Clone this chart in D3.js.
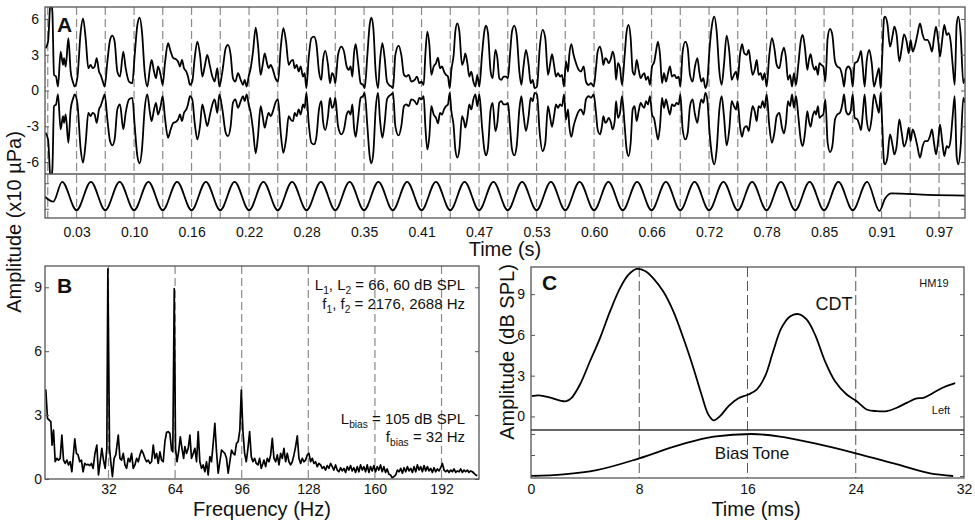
<!DOCTYPE html>
<html><head><meta charset="utf-8">
<script src="https://cdn.jsdelivr.net/npm/d3@7"></script>
<style>body{margin:0;background:#fff}</style>
</head><body>
<svg id="chart" width="975" height="525"></svg>
<script>
// ---------------- DATA ----------------
// Panel A: envelope of the recorded waveform (x10 µPa), upper trace; lower trace is its mirror
const aEnvelope = [
[0.0007,3.54],[0.0033,4.10],[0.0062,7.6],[0.0080,6.6],[0.0098,1.31],[0.0120,1.17],[0.0141,0.33],[0.0170,3.26],[0.0196,2.15],[0.0207,2.71],[0.0225,2.01],[0.0254,4.38],[0.0279,1.59],[0.0308,0.61],[0.0322,0.33],[0.0351,1.03],[0.0388,4.94],[0.0413,6.05],[0.0442,4.38],[0.0471,1.87],[0.0496,2.15],[0.0518,1.87],[0.0540,2.01],[0.0562,2.71],[0.0587,1.59],[0.0605,1.31],[0.0623,0.89],[0.0649,0.33],[0.0678,2.43],[0.0707,4.24],[0.0732,4.60],[0.0757,4.10],[0.0786,1.59],[0.0815,1.17],[0.0851,3.26],[0.0877,1.87],[0.0913,0.75],[0.0949,0.61],[0.0975,2.98],[0.1004,5.50],[0.1029,6.11],[0.1054,4.94],[0.1083,1.59],[0.1112,0.33],[0.1141,1.87],[0.1159,2.57],[0.1185,1.59],[0.1207,1.03],[0.1228,2.01],[0.1257,1.31],[0.1279,0.47],[0.1304,2.29],[0.1337,3.96],[0.1366,3.26],[0.1395,2.71],[0.1424,2.62],[0.1446,2.43],[0.1467,2.01],[0.1489,2.57],[0.1511,1.87],[0.1536,1.59],[0.1554,1.17],[0.1576,0.47],[0.1601,0.75],[0.1627,2.71],[0.1656,4.10],[0.1685,2.98],[0.1710,1.17],[0.1736,2.01],[0.1764,2.98],[0.1790,2.15],[0.1819,1.17],[0.1844,0.75],[0.1873,1.87],[0.1895,0.33],[0.1928,1.59],[0.1964,3.54],[0.1989,3.82],
[0.2018,2.98],[0.2043,1.03],[0.2069,0.75],[0.2098,1.45],[0.2127,0.89],[0.2152,0.47],[0.2170,0.89],[0.2192,0.33],[0.2214,1.17],[0.2236,1.87],[0.2261,3.26],[0.2290,5.27],[0.2315,3.82],[0.2344,1.31],[0.2366,2.15],[0.2388,3.12],[0.2413,2.29],[0.2431,1.87],[0.2453,2.15],[0.2478,1.73],[0.2504,1.03],[0.2533,0.75],[0.2562,3.54],[0.2591,5.22],[0.2620,4.10],[0.2649,2.15],[0.2670,2.43],[0.2696,2.57],[0.2714,1.87],[0.2736,2.15],[0.2757,1.59],[0.2779,2.01],[0.2804,1.17],[0.2822,1.45],[0.2841,0.20],[0.2866,2.71],[0.2895,4.38],[0.2924,4.52],[0.2949,3.96],[0.2978,1.59],[0.3004,0.89],[0.3022,2.57],[0.3047,3.32],[0.3076,2.15],[0.3098,0.61],[0.3120,1.45],[0.3141,1.17],[0.3156,0.61],[0.3185,2.98],[0.3221,3.68],[0.3250,3.26],[0.3279,2.01],[0.3301,1.73],[0.3322,2.01],[0.3341,1.17],[0.3359,3.12],[0.3377,3.88],[0.3402,2.43],[0.3431,0.61],[0.3457,0.47],[0.3475,0.20],[0.3504,2.98],[0.3529,5.50],[0.3547,6.11],[0.3569,5.22],[0.3594,1.59],[0.3620,0.20],[0.3641,2.43],[0.3667,3.96],[0.3692,2.71],[0.3717,0.75],[0.3739,0.47],[0.3764,0.33],[0.3783,0.20],[0.3808,2.98],[0.3844,3.77],[0.3873,2.98],[0.3902,1.31],[0.3928,1.17],[0.3953,1.31],[0.3982,0.75],
[0.4018,0.89],[0.4043,1.17],[0.4069,0.61],[0.4091,0.75],[0.4116,0.47],[0.4134,2.98],[0.4156,4.94],[0.4178,3.82],[0.4199,1.31],[0.4225,2.01],[0.4250,2.29],[0.4272,2.76],[0.4293,1.87],[0.4315,2.01],[0.4337,1.59],[0.4359,1.31],[0.4380,1.17],[0.4399,0.20],[0.4417,1.73],[0.4442,2.98],[0.4460,4.94],[0.4482,5.63],[0.4504,4.94],[0.4533,2.15],[0.4554,2.57],[0.4569,3.12],[0.4591,2.29],[0.4612,1.17],[0.4634,1.59],[0.4656,0.75],[0.4678,0.33],[0.4699,1.31],[0.4721,0.33],[0.4750,2.98],[0.4775,4.94],[0.4793,5.44],[0.4815,4.80],[0.4844,1.59],[0.4866,1.03],[0.4895,3.40],[0.4917,2.71],[0.4938,1.03],[0.4960,0.89],[0.4986,1.17],[0.5011,1.17],[0.5033,1.03],[0.5054,2.98],[0.5076,4.94],[0.5101,5.44],[0.5127,4.66],[0.5156,1.59],[0.5178,0.47],[0.5199,1.87],[0.5228,3.40],[0.5257,2.15],[0.5279,0.61],[0.5301,0.89],[0.5322,0.20],[0.5348,0.33],[0.5377,3.54],[0.5409,5.08],[0.5438,4.38],[0.5467,1.31],[0.5489,2.15],[0.5511,3.04],[0.5533,2.15],[0.5554,1.17],[0.5576,1.45],[0.5598,1.17],[0.5620,1.31],[0.5641,0.33],[0.5663,2.43],[0.5685,1.59],[0.5699,2.98],[0.5721,3.88],[0.5746,2.98],[0.5772,2.29],[0.5801,1.73],[0.5826,1.59],[0.5855,2.01],[0.5880,0.75],[0.5909,0.47],[0.5935,0.61],[0.5964,0.33],[0.5989,1.87],
[0.6007,3.26],[0.6033,3.68],[0.6054,2.98],[0.6069,2.15],[0.6091,2.71],[0.6109,2.57],[0.6127,2.29],[0.6152,2.71],[0.6170,3.26],[0.6192,2.57],[0.6207,0.89],[0.6228,2.29],[0.6250,1.87],[0.6272,0.47],[0.6301,2.98],[0.6322,4.94],[0.6344,5.50],[0.6366,4.38],[0.6388,1.59],[0.6409,1.31],[0.6431,2.57],[0.6453,1.73],[0.6475,1.03],[0.6496,1.31],[0.6514,1.45],[0.6533,0.89],[0.6554,1.17],[0.6576,0.47],[0.6598,2.01],[0.6623,2.43],[0.6641,3.26],[0.6663,4.10],[0.6685,2.98],[0.6707,0.61],[0.6728,1.45],[0.6750,0.75],[0.6772,1.45],[0.6793,2.01],[0.6815,1.17],[0.6841,1.31],[0.6866,1.03],[0.6888,1.17],[0.6906,0.33],[0.6931,3.26],[0.6960,4.10],[0.6986,3.54],[0.7011,1.31],[0.7040,0.75],[0.7062,1.87],[0.7091,2.71],[0.7112,1.59],[0.7134,0.75],[0.7156,1.03],[0.7178,0.20],[0.7199,0.75],[0.7221,3.26],[0.7250,5.50],[0.7275,6.19],[0.7301,4.94],[0.7330,1.59],[0.7355,0.47],[0.7380,2.15],[0.7409,4.60],[0.7438,3.26],[0.7464,0.89],[0.7489,1.31],[0.7511,1.59],[0.7529,0.89],[0.7554,2.98],[0.7576,3.88],[0.7601,3.12],[0.7627,2.98],[0.7649,3.40],[0.7670,2.29],[0.7692,1.31],[0.7714,1.73],[0.7736,2.57],[0.7757,1.31],[0.7779,1.45],[0.7801,0.89],[0.7822,1.45],[0.7844,0.33],[0.7873,2.98],[0.7902,4.38],[0.7928,3.54],[0.7953,2.15],[0.7982,1.87],
[0.8011,3.12],[0.8033,3.60],[0.8054,2.71],[0.8076,0.89],[0.8098,1.31],[0.8120,0.33],[0.8141,1.45],[0.8163,0.47],[0.8188,2.15],[0.8214,4.10],[0.8236,4.66],[0.8261,3.54],[0.8286,1.73],[0.8304,2.57],[0.8322,3.04],[0.8344,2.15],[0.8366,1.73],[0.8380,2.01],[0.8402,1.31],[0.8417,2.29],[0.8438,2.15],[0.8460,2.01],[0.8482,0.75],[0.8507,4.38],[0.8533,5.16],[0.8558,4.66],[0.8587,2.43],[0.8612,2.01],[0.8641,1.87],[0.8670,1.03],[0.8685,0.33],[0.8707,1.73],[0.8732,2.01],[0.8757,1.73],[0.8779,0.33],[0.8801,2.29],[0.8830,2.43],[0.8851,2.85],[0.8870,3.32],[0.8888,2.01],[0.8909,0.33],[0.8931,2.43],[0.8960,3.40],[0.8986,2.29],[0.9011,0.33],[0.9040,1.17],[0.9065,1.87],[0.9083,0.20],[0.9101,2.98],[0.9120,6.05],[0.9130,6.19],[0.9156,5.63],[0.9185,3.68],[0.9214,4.66],[0.9232,5.36],[0.9257,4.66],[0.9286,2.43],[0.9312,3.54],[0.9337,4.71],[0.9366,4.10],[0.9388,3.12],[0.9409,4.24],[0.9431,3.26],[0.9453,3.68],[0.9482,4.66],[0.9511,5.63],[0.9540,4.66],[0.9565,4.24],[0.9591,4.24],[0.9620,3.82],[0.9641,3.26],[0.9663,4.38],[0.9685,5.36],[0.9710,4.10],[0.9728,2.85],[0.9754,4.38],[0.9775,5.50],[0.9801,4.66],[0.9822,4.80],[0.9844,4.10],[0.9866,2.15],[0.9888,0.47],[0.9909,5.50],[0.9928,6.19],[0.9953,4.66],[0.9982,0.61],[1.0000,1.03]
];
// Panel A: bias tone (relative units), turning points
const aBiasTone = [
[0.000,-0.05],[0.009,-0.40],[0.0186,1],[0.0343,-1],[0.0499,1],[0.0655,-1],[0.0811,1],[0.0968,-1],[0.1124,1],[0.1280,-1],[0.1436,1],[0.1593,-1],[0.1749,1],[0.1905,-1],[0.2061,1],[0.2218,-1],[0.2374,1],[0.2530,-1],[0.2686,1],[0.2843,-1],[0.2999,1],[0.3155,-1],[0.3311,1],[0.3468,-1],[0.3624,1],[0.3780,-1],[0.3936,1],[0.4093,-1],[0.4249,1],[0.4405,-1],[0.4561,1],[0.4718,-1],[0.4874,1],[0.5030,-1],[0.5186,1],[0.5343,-1],[0.5499,1],[0.5655,-1],[0.5811,1],[0.5968,-1],[0.6124,1],[0.6280,-1],[0.6436,1],[0.6593,-1],[0.6749,1],[0.6905,-1],[0.7061,1],[0.7218,-1],[0.7374,1],[0.7530,-1],[0.7686,1],[0.7843,-1],[0.7999,1],[0.8155,-1],[0.8311,1],[0.8468,-1],[0.8624,1],[0.8780,-1],[0.8936,1],[0.9070,-1.05],[0.9130,-0.2],[0.9200,0.18],[0.9600,0.08],[1.0000,0.03]
];
// Panel A: dashed reference lines (s) and tick labels
const aGridTimes = [0.0030,0.0343,0.0655,0.0968,0.1280,0.1593,0.1905,0.2218,0.2530,0.2843,0.3155,0.3468,0.3780,0.4093,0.4405,0.4718,0.5030,0.5343,0.5655,0.5968,0.6280,0.6593,0.6905,0.7218,0.7530,0.7843,0.8155,0.8468,0.8780,0.9093,0.9405,0.9718];
const aTickTimes = [0.0343,0.0968,0.1593,0.2218,0.2843,0.3468,0.4093,0.4718,0.5343,0.5968,0.6593,0.7218,0.7843,0.8468,0.9093,0.9718];
const aTickLabels = ["0.03","0.10","0.16","0.22","0.28","0.35","0.41","0.47","0.53","0.60","0.66","0.72","0.78","0.85","0.91","0.97"];
const aYTicks = [-6,-3,0,3,6];

// Panel B: spectrum [frequency Hz, amplitude]
const bSpectrum = [
[1.6,4.2],[1.9,4.17],[2.7,2.84],[3.5,2.77],[4.3,2.69],[4.9,1.59],[5.6,2.30],[6.4,0.81],[7.2,0.97],[8.0,0.89],[8.8,0.97],[9.6,2.06],[10.4,0.89],[11.2,0.73],[12.0,0.89],[12.8,0.66],[13.6,0.81],[14.4,0.34],[15.8,1.88],[16.6,1.20],[17.4,1.13],[18.2,0.81],[19.0,0.89],[19.8,0.34],[20.6,0.73],[21.4,0.66],[22.2,0.69],[23.0,0.63],[23.8,0.73],[24.6,0.50],[25.5,1.20],[26.4,1.59],[27.2,0.19],[28.0,0.81],[28.8,1.44],[29.6,0.89],[30.4,0.50],[31.2,1.44],[31.7,9.87],[32.5,1.44],[33.1,0.81],[33.9,0.11],[34.7,0.97],[35.5,1.13],[36.7,2.06],[37.5,0.97],[38.3,0.89],[39.1,1.20],[39.9,0.66],[40.7,0.50],[41.5,0.97],[42.3,0.81],[43.1,1.20],[43.9,0.50],[44.7,0.66],[45.5,0.97],[46.3,0.81],[47.1,1.13],[47.9,1.36],[48.7,1.20],[49.5,0.97],[50.3,0.81],[51.1,0.89],[51.9,0.73],[52.7,0.81],[53.5,1.59],[54.3,0.97],[55.1,1.20],[55.9,0.73],[56.7,1.28],[57.5,0.89],[58.3,0.81],[59.1,1.75],[59.9,2.19],[60.7,2.22],[61.5,2.14],[62.3,1.36],[62.9,1.28],[63.6,8.94],[64.2,1.44],[64.9,0.81],[65.7,1.28],[66.5,1.98],[67.3,1.44],[68.1,0.97],[68.7,1.52],[69.5,1.20],[70.3,1.44],[71.1,2.06],[71.9,0.97],[72.7,1.20],[73.5,1.44],[74.3,0.81],[75.1,2.22],[75.9,0.81],[76.7,0.50],[77.5,0.66],[78.3,0.34],[79.1,0.81],[79.9,0.19],[80.7,1.05],[81.5,0.81],[82.3,1.67],[83.1,2.61],[83.9,1.28],[84.7,0.27],[85.5,0.81],[86.3,1.36],[87.1,1.28],[87.9,1.20],[88.7,0.97],[89.5,0.27],[90.3,0.81],[91.1,1.36],[91.9,1.20],[92.7,1.13],[93.5,1.67],[94.3,1.75],[95.1,2.30],[95.8,4.17],[96.6,2.22],[97.4,1.20],[98.2,0.81],[99.0,1.44],[99.8,2.22],[100.6,1.05],[101.4,0.81],[102.2,0.97],[103.0,0.73],[103.8,0.66],[104.6,0.97],[105.4,0.50],
[106.2,0.73],[106.7,0.89],[107.5,0.58],[108.3,0.97],[109.1,0.81],[109.9,1.13],[110.7,1.91],[111.5,0.97],[112.3,0.81],[113.1,1.13],[113.9,0.66],[114.7,1.20],[115.5,0.97],[116.3,1.44],[117.1,0.81],[117.9,1.20],[118.7,0.81],[119.5,0.66],[120.3,0.81],[121.1,1.13],[121.9,1.52],[122.7,2.03],[123.5,0.97],[124.3,0.73],[125.1,0.97],[125.9,0.81],[126.7,0.89],[127.5,1.13],[128.3,1.20],[129.1,0.81],[129.9,0.97],[130.7,0.73],[131.5,0.81],[132.3,0.58],[133.1,0.73],[133.9,0.66],[134.7,0.50],[135.5,0.58],[136.3,0.42],[137.1,0.63],[137.9,0.50],[138.7,0.73],[139.5,0.58],[140.3,0.42],[141.1,0.66],[141.9,0.42],[142.7,0.34],[143.5,0.53],[144.3,0.38],[145.1,0.50],[145.9,0.31],[146.7,0.58],[147.5,0.42],[148.3,0.63],[149.1,0.38],[149.9,0.53],[150.7,0.31],[151.5,0.58],[152.3,0.34],[153.1,0.66],[153.9,0.42],[154.7,0.58],[155.5,0.34],[156.3,0.66],[157.1,0.31],[157.9,0.58],[158.7,0.38],[159.5,0.63],[160.3,0.34],[161.1,0.58],[161.9,0.42],[162.7,0.66],[163.5,0.34],[164.3,0.58],[165.1,0.31],[165.9,0.47],[166.7,0.22],[167.5,0.19],[168.3,0.06],[169.1,0.11],[170.0,0.19],[170.8,0.42],[171.6,0.34],[172.4,0.50],[173.2,0.27],[174.0,0.53],[174.8,0.34],[175.6,0.58],[176.4,0.38],[177.2,0.50],[178.0,0.31],[178.8,0.58],[179.6,0.34],[180.4,0.66],[181.2,0.42],[182.0,0.58],[182.8,0.34],[183.6,0.63],[184.4,0.38],[185.2,0.58],[186.0,0.38],[186.8,0.50],[187.6,0.31],[188.4,0.53],[189.2,0.34],[190.0,0.47],[190.8,0.38],[191.6,0.53],[192.4,0.73],[193.2,0.42],[194.0,0.34],[194.8,0.42],[195.6,0.31],[196.4,0.42],[197.2,0.34],[198.0,0.47],[198.8,0.31],[199.6,0.38],[200.4,0.34],[201.2,0.47],[202.0,0.31],[202.8,0.42],[203.6,0.34],[204.4,0.42],[205.2,0.31],[206.0,0.38],[206.8,0.34],[207.6,0.27],[208.4,0.19],[209.2,0.16]
];
const bXTicks = [32,64,96,128,160,192];
const bYTicks = [0,3,6,9];

// Panel C: CDT amplitude [time ms, dB SPL] and bias tone [time ms, relative]
const cCDT = [
[0.05,1.49],[0.6,1.55],[1.35,1.4],[2.14,1.17],[2.6,1.12],[3.0,1.37],[3.62,2.35],[4.36,4.06],[5.1,5.77],[5.84,7.73],[6.58,9.44],[7.19,10.42],[7.81,10.86],[8.43,10.71],[9.04,10.17],[9.78,9.19],[10.52,7.73],[11.26,5.77],[12.0,3.57],[12.6,1.61],[13.1,0.15],[13.5,-0.29],[13.97,0.02],[14.6,0.76],[15.3,1.32],[16.06,1.61],[16.68,1.98],[17.3,2.96],[17.9,4.8],[18.5,6.5],[19.14,7.36],[19.76,7.53],[20.38,7.12],[20.99,6.02],[21.73,4.06],[22.47,2.59],[23.33,1.61],[24.07,1.12],[24.8,0.51],[25.55,0.39],[26.3,0.39],[27.03,0.64],[27.77,1.0],[28.5,1.32],[29.0,1.37],[29.74,1.74],[30.5,2.15],[31.35,2.45]
];
const cBiasTone = [
[0,0],[2.4,0.04],[4.85,0.14],[8,0.42],[11,0.74],[13.5,0.94],[16.3,1.0],[18.4,0.94],[20.9,0.78],[24,0.54],[27,0.28],[29.5,0.064],[31.2,0]
];
const cXTicks = [0,8,16,24,32];
const cYTicks = [0,3,6,9];
const cGrid = [8,16,24];

// ---------------- DRAWING ----------------
const FONT = '"Liberation Sans", Arial, Helvetica, sans-serif';
const svg = d3.select("#chart").style("font-family", FONT);
svg.append("rect").attr("width",975).attr("height",525).attr("fill","#fff");
const FRAME = "#555";
const defs = svg.append("defs");
function clip(id, x, y, w, h){
  defs.append("clipPath").attr("id", id).append("rect").attr("x",x).attr("y",y).attr("width",w).attr("height",h);
  return `url(#${id})`;
}
function styleAxis(g, size){
  g.select(".domain").remove();
  g.selectAll(".tick line").attr("stroke", FRAME).attr("stroke-width",1);
  g.selectAll(".tick text").attr("font-size", size).attr("font-family", FONT).attr("fill","#111");
}
function vdash(x, y1, y2, color, dash, w){
  svg.append("line").attr("x1",x).attr("x2",x).attr("y1",y1).attr("y2",y2)
    .attr("stroke",color).attr("stroke-width",w).attr("stroke-dasharray",dash);
}
function rich(x, y, parts, size){
  const t = svg.append("text").attr("x",x).attr("y",y).attr("text-anchor","end")
    .attr("font-size",size).attr("fill","#111");
  let sub = false;
  parts.forEach(p => {
    const s = t.append("tspan").text(p[0]);
    if (p[1] && !sub){ s.attr("dy",4).attr("font-size",size*0.68); sub = true; }
    else if (p[1]) { s.attr("font-size",size*0.68); }
    else if (!p[1] && sub){ s.attr("dy",-4); sub = false; }
  });
}
function label(x, y, txt, size, opts={}){
  const t = svg.append("text").attr("x",x).attr("y",y).text(txt).attr("font-size",size).attr("fill","#111")
    .attr("text-anchor", opts.anchor || "start");
  if (opts.bold) t.attr("font-weight","bold");
  if (opts.rotate) t.attr("transform",`rotate(-90,${x},${y})`);
  return t;
}

// ----- Panel A -----
const A = {l:45, r:965, t:7, m:174, b:218};
const xA = d3.scaleLinear().domain([0,1]).range([A.l, A.r]);
const yA = d3.scaleLinear().domain([-7,7]).range([A.m, A.t]);
const yAb = d3.scaleLinear().domain([-1.55,1.55]).range([A.b, A.m]);

aGridTimes.forEach(t => vdash(xA(t), A.t, A.b, "#8a8a8a", "8,4", 1.2));

const clipA = clip("clipA", A.l, A.t, A.r-A.l, A.m-A.t);
const lineUp = d3.line().x(d=>xA(d[0])).y(d=>yA(d[1])).curve(d3.curveMonotoneX);
const lineDn = d3.line().x(d=>xA(d[0])).y(d=>yA(-d[1])).curve(d3.curveMonotoneX);
svg.append("path").datum(aEnvelope).attr("d",lineUp).attr("fill","none").attr("stroke","#000")
  .attr("stroke-width",1.8).attr("stroke-linejoin","round").attr("clip-path",clipA);
svg.append("path").datum(aEnvelope).attr("d",lineDn).attr("fill","none").attr("stroke","#000")
  .attr("stroke-width",1.8).attr("stroke-linejoin","round").attr("clip-path",clipA);

const clipAb = clip("clipAb", A.l, A.m, A.r-A.l, A.b-A.m);
const lineBiasA = d3.line().x(d=>xA(d[0])).y(d=>yAb(d[1])).curve(d3.curveMonotoneX);
svg.append("path").datum(aBiasTone).attr("d",lineBiasA).attr("fill","none").attr("stroke","#000")
  .attr("stroke-width",1.8).attr("clip-path",clipAb);

svg.append("rect").attr("x",A.l).attr("y",A.t).attr("width",A.r-A.l).attr("height",A.b-A.t)
  .attr("fill","none").attr("stroke",FRAME).attr("stroke-width",1.3);
svg.append("line").attr("x1",A.l).attr("x2",A.r).attr("y1",A.m).attr("y2",A.m).attr("stroke",FRAME).attr("stroke-width",1.3);

const gAy = svg.append("g").attr("transform",`translate(${A.l},0)`)
  .call(d3.axisLeft(yA).tickValues(aYTicks).tickSize(-4).tickPadding(6).tickFormat(d=>String(d)));
styleAxis(gAy, 14);
const gAyr = svg.append("g").attr("transform",`translate(${A.r},0)`)
  .call(d3.axisRight(yA).tickValues(aYTicks).tickSize(-4).tickFormat(""));
styleAxis(gAyr, 14);
const gAbl = svg.append("g").attr("transform",`translate(${A.l},0)`)
  .call(d3.axisLeft(yAb).tickValues([-0.9,0.9]).tickSize(-4).tickFormat(""));
styleAxis(gAbl, 14);
const gAbr = svg.append("g").attr("transform",`translate(${A.r},0)`)
  .call(d3.axisRight(yAb).tickValues([-0.9,0.9]).tickSize(-4).tickFormat(""));
styleAxis(gAbr, 14);
const gAx = svg.append("g").attr("transform",`translate(0,${A.b})`)
  .call(d3.axisBottom(xA).tickValues(aTickTimes).tickSize(0).tickPadding(9).tickFormat((d,i)=>aTickLabels[i]));
styleAxis(gAx, 14);

label(57, 32, "A", 21, {bold:true});
label(505, 256, "Time (s)", 20, {anchor:"middle"});
label(21, 222, "Amplitude (x10 µPa)", 20, {anchor:"middle", rotate:true});

// ----- Panel B -----
const B = {l:45, r:479, t:266, b:479};
const xB = d3.scaleLinear().domain([1.5,210]).range([B.l, B.r]);
const yB = d3.scaleLinear().domain([0,10]).range([B.b, B.t]);
bXTicks.forEach(f => vdash(xB(f), B.t, B.b, "#8a8a8a", "8,4", 1.2));
const clipB = clip("clipB", B.l, B.t, B.r-B.l, B.b-B.t);
svg.append("path").datum(bSpectrum)
  .attr("d", d3.line().x(d=>xB(d[0])).y(d=>yB(d[1])))
  .attr("fill","none").attr("stroke","#000").attr("stroke-width",1.7).attr("stroke-linejoin","round")
  .attr("clip-path",clipB);
svg.append("rect").attr("x",B.l).attr("y",B.t).attr("width",B.r-B.l).attr("height",B.b-B.t)
  .attr("fill","none").attr("stroke",FRAME).attr("stroke-width",1.3);
const gBy = svg.append("g").attr("transform",`translate(${B.l},0)`)
  .call(d3.axisLeft(yB).tickValues(bYTicks).tickSize(-4).tickPadding(3));
styleAxis(gBy, 14);
const gByr = svg.append("g").attr("transform",`translate(${B.r},0)`)
  .call(d3.axisRight(yB).tickValues(bYTicks).tickSize(-4).tickFormat(""));
styleAxis(gByr, 14);
const gBx = svg.append("g").attr("transform",`translate(0,${B.b})`)
  .call(d3.axisBottom(xB).tickValues(bXTicks).tickSize(0).tickPadding(5));
styleAxis(gBx, 14);
label(57, 293, "B", 21, {bold:true});
label(262, 516, "Frequency (Hz)", 20, {anchor:"middle"});
rich(465, 290, [["L"],["1",1],[", L"],["2",1],[" = 66, 60 dB SPL"]], 15);
rich(465, 309, [["f"],["1",1],[", f"],["2",1],[" = 2176, 2688 Hz"]], 15);
rich(465, 424, [["L"],["bias",1],[" = 105 dB SPL"]], 15);
rich(465, 442, [["f"],["bias",1],[" = 32 Hz"]], 15);

// ----- Panel C -----
const C = {l:531, r:964, t:267, m:430, b:478};
const xC = d3.scaleLinear().domain([0,32]).range([C.l, C.r]);
const yC = d3.scaleLinear().domain([-1,11]).range([C.m, C.t]);
const yCb = d3.scaleLinear().domain([0,1]).range([476, 434]);
cGrid.forEach(t => vdash(xC(t), C.t, C.b, "#555", "10,4", 1));
const clipC = clip("clipC", C.l, C.t, C.r-C.l, C.m-C.t);
svg.append("path").datum(cCDT)
  .attr("d", d3.line().x(d=>xC(d[0])).y(d=>yC(d[1])).curve(d3.curveCatmullRom.alpha(0.5)))
  .attr("fill","none").attr("stroke","#000").attr("stroke-width",1.8).attr("clip-path",clipC);
svg.append("path").datum(cBiasTone)
  .attr("d", d3.line().x(d=>xC(d[0])).y(d=>yCb(d[1])).curve(d3.curveMonotoneX))
  .attr("fill","none").attr("stroke","#000").attr("stroke-width",1.8);
svg.append("rect").attr("x",C.l).attr("y",C.t).attr("width",C.r-C.l).attr("height",C.b-C.t)
  .attr("fill","none").attr("stroke",FRAME).attr("stroke-width",1.3);
svg.append("line").attr("x1",C.l).attr("x2",C.r).attr("y1",C.m).attr("y2",C.m).attr("stroke","#333").attr("stroke-width",1.3);
const gCy = svg.append("g").attr("transform",`translate(${C.l},0)`)
  .call(d3.axisLeft(yC).tickValues(cYTicks).tickSize(-4).tickPadding(6));
styleAxis(gCy, 14);
const gCyr = svg.append("g").attr("transform",`translate(${C.r},0)`)
  .call(d3.axisRight(yC).tickValues(cYTicks).tickSize(-4).tickFormat(""));
styleAxis(gCyr, 14);
const gCbl = svg.append("g").attr("transform",`translate(${C.l},0)`)
  .call(d3.axisLeft(yCb).tickValues([0,0.5,1]).tickSize(-4).tickFormat(""));
styleAxis(gCbl, 14);
const gCbr = svg.append("g").attr("transform",`translate(${C.r},0)`)
  .call(d3.axisRight(yCb).tickValues([0,0.5,1]).tickSize(-4).tickFormat(""));
styleAxis(gCbr, 14);
const gCx = svg.append("g").attr("transform",`translate(0,${C.b})`)
  .call(d3.axisBottom(xC).tickValues(cXTicks).tickSize(0).tickPadding(6));
styleAxis(gCx, 14);
label(542, 290, "C", 21, {bold:true});
label(934, 287, "HM19", 11, {anchor:"middle"});
label(834, 310, "CDT", 18, {anchor:"middle"});
label(941, 414, "Left", 11, {anchor:"middle"});
label(752, 459, "Bias Tone", 17, {anchor:"middle"});
label(756, 516, "Time (ms)", 20, {anchor:"middle"});
label(514, 352, "Amplitude (dB SPL)", 20, {anchor:"middle", rotate:true});
</script>
</body></html>
